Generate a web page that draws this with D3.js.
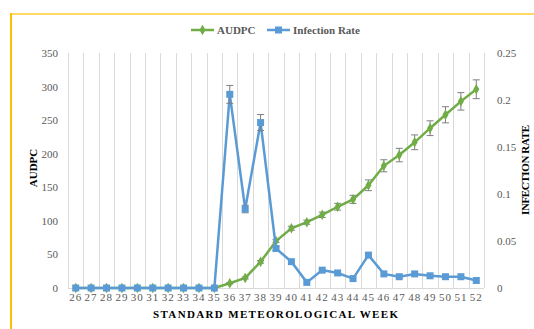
<!DOCTYPE html>
<meta charset="utf-8">
<style>
body { margin: 0; background: #fff; }
svg { display: block; font-family: "Liberation Serif", "Times New Roman", serif; }
.tick text { fill: #595959; font-size: 11px; font-family: "Liberation Serif", "Times New Roman", serif; }
.axis path, .axis line { display: none; }
.title { font-weight: bold; font-size: 11px; fill: #000; }
.legend text { font-weight: bold; font-size: 11px; fill: #595959; }
</style>
<body>
<svg width="534" height="329"></svg>
<script src="https://cdn.jsdelivr.net/npm/d3@7"></script>
<script>
// standard meteorological weeks
var weeks = [26, 27, 28, 29, 30, 31, 32, 33, 34, 35, 36, 37, 38, 39, 40, 41, 42, 43, 44, 45, 46, 47, 48, 49, 50, 51, 52];
var audpc = [0, 0, 0, 0, 0, 0, 0, 0, 0, 0, 7, 15, 39, 70, 89, 98, 109, 121, 132, 153, 182, 198, 217, 238, 258, 278, 296];
var audpcErr = [0, 0, 0, 0, 0, 0, 0, 0, 0, 0, 1, 1.5, 2, 2, 3, 3, 4, 5, 6, 8, 9, 10, 11, 11, 12, 13, 14];
var infection = [0, 0, 0, 0, 0, 0, 0, 0, 0, 0, 0.206, 0.084, 0.176, 0.042, 0.028, 0.006, 0.019, 0.016, 0.010, 0.035, 0.015, 0.012, 0.015, 0.013, 0.012, 0.012, 0.008];
var infectionErr = [0, 0, 0, 0, 0, 0, 0, 0, 0, 0, 0.0095, 0.004, 0.0085, 0.002, 0, 0, 0, 0, 0, 0, 0, 0, 0, 0, 0, 0, 0];
var leftTicks = [0, 50, 100, 150, 200, 250, 300, 350];
var rightTicks = [0, 0.05, 0.1, 0.15, 0.2, 0.25];

var svg = d3.select("svg");
var green = "#70ad47", blue = "#5b9bd5", errCol = "#7f7f7f";

// yellow frame
svg.append("line").attr("x1", 11).attr("x2", 534).attr("y1", 14).attr("y2", 14)
  .attr("stroke", "#ffd966").attr("stroke-width", 2);
svg.append("line").attr("x1", 11).attr("x2", 11).attr("y1", 13).attr("y2", 329)
  .attr("stroke", "#ffc000").attr("stroke-width", 2);

var x = d3.scaleBand().domain(weeks).range([68, 484]);
var yL = d3.scaleLinear().domain([0, 350]).range([288, 53]);
var yR = d3.scaleLinear().domain([0, 0.25]).range([288, 53]);
var cx = function(w) { return x(w) + x.bandwidth() / 2; };

// vertical gridlines at band edges
var edges = weeks.map(function(w) { return x(w); }).concat([x.range()[1]]);
svg.append("g").selectAll("line").data(edges).enter().append("line")
  .attr("x1", function(d) { return Math.round(d) + 0.5; })
  .attr("x2", function(d) { return Math.round(d) + 0.5; })
  .attr("y1", yL(350)).attr("y2", yL(0))
  .attr("stroke", "#d9d9d9").attr("stroke-width", 1);
svg.append("line").attr("x1", 68).attr("x2", 484).attr("y1", 288.5).attr("y2", 288.5)
  .attr("stroke", "#d9d9d9");

// axes
svg.append("g").attr("class", "axis").attr("transform", "translate(62,0)")
  .call(d3.axisLeft(yL).tickValues(leftTicks).tickSize(0).tickPadding(4));
svg.append("g").attr("class", "axis").attr("transform", "translate(493,0)")
  .call(d3.axisRight(yR).tickValues(rightTicks).tickSize(0).tickPadding(4)
    .tickFormat(function(d) { return d === 0 ? "0" : String(+d.toFixed(2)); }));
svg.append("g").attr("class", "axis").attr("transform", "translate(0,292)")
  .call(d3.axisBottom(x).tickSize(0).tickPadding(1))
  .selectAll("text").style("letter-spacing", "1px");

// axis titles
svg.append("text").attr("class", "title")
  .attr("transform", "translate(37,168) rotate(-90)")
  .attr("text-anchor", "middle").text("AUDPC");
svg.append("text").attr("class", "title")
  .attr("transform", "translate(529,170) rotate(-90)")
  .attr("text-anchor", "middle").attr("textLength", 90).attr("lengthAdjust", "spacing")
  .text("INFECTION RATE");
svg.append("text").attr("class", "title")
  .attr("x", 153).attr("y", 318)
  .attr("textLength", 245).attr("lengthAdjust", "spacing")
  .text("STANDARD METEOROLOGICAL WEEK");

function errorBars(vals, errs, y) {
  var g = svg.append("g");
  var d = weeks.map(function(w, i) { return {w: w, v: vals[i], e: errs[i]}; })
    .filter(function(d) { return d.e > 0; });
  g.selectAll("line.v").data(d).enter().append("line")
    .attr("x1", function(d) { return cx(d.w); }).attr("x2", function(d) { return cx(d.w); })
    .attr("y1", function(d) { return y(d.v + d.e); }).attr("y2", function(d) { return y(d.v - d.e); })
    .attr("stroke", errCol).attr("stroke-width", 1);
  [1, -1].forEach(function(s) {
    g.selectAll("line.c" + s).data(d).enter().append("line")
      .attr("x1", function(d) { return cx(d.w) - 3.5; }).attr("x2", function(d) { return cx(d.w) + 3.5; })
      .attr("y1", function(d) { return y(d.v + s * d.e); }).attr("y2", function(d) { return y(d.v + s * d.e); })
      .attr("stroke", errCol).attr("stroke-width", 1);
  });
}

// AUDPC series
var lineL = d3.line().x(function(d, i) { return cx(weeks[i]); }).y(function(d) { return yL(d); });
svg.append("path").datum(audpc).attr("d", lineL)
  .attr("fill", "none").attr("stroke", green).attr("stroke-width", 2.5);
errorBars(audpc, audpcErr, yL);
svg.append("g").selectAll("path").data(audpc).enter().append("path")
  .attr("d", d3.symbol().type(d3.symbolDiamond).size(32))
  .attr("transform", function(d, i) { return "translate(" + cx(weeks[i]) + "," + yL(d) + ")"; })
  .attr("fill", green);

// infection rate series
var lineR = d3.line().x(function(d, i) { return cx(weeks[i]); }).y(function(d) { return yR(d); });
svg.append("path").datum(infection).attr("d", lineR)
  .attr("fill", "none").attr("stroke", blue).attr("stroke-width", 2.5);
errorBars(infection, infectionErr, yR);
svg.append("g").selectAll("rect").data(infection).enter().append("rect")
  .attr("x", function(d, i) { return cx(weeks[i]) - 3.5; })
  .attr("y", function(d) { return yR(d) - 3.5; })
  .attr("width", 7).attr("height", 7).attr("fill", blue);

// legend
var leg = svg.append("g").attr("class", "legend");
[{name: "AUDPC", c: green, x: 191, m: "d"}, {name: "Infection Rate", c: blue, x: 267, m: "s"}].forEach(function(s) {
  leg.append("line").attr("x1", s.x).attr("x2", s.x + 23).attr("y1", 30).attr("y2", 30)
    .attr("stroke", s.c).attr("stroke-width", 2.5);
  if (s.m === "d") {
    leg.append("path").attr("d", d3.symbol().type(d3.symbolDiamond).size(32))
      .attr("transform", "translate(" + (s.x + 11.5) + ",30)").attr("fill", s.c);
  } else {
    leg.append("rect").attr("x", s.x + 8).attr("y", 26.5).attr("width", 7).attr("height", 7).attr("fill", s.c);
  }
  leg.append("text").attr("x", s.x + 26).attr("y", 34).text(s.name);
});
</script>
</body>
